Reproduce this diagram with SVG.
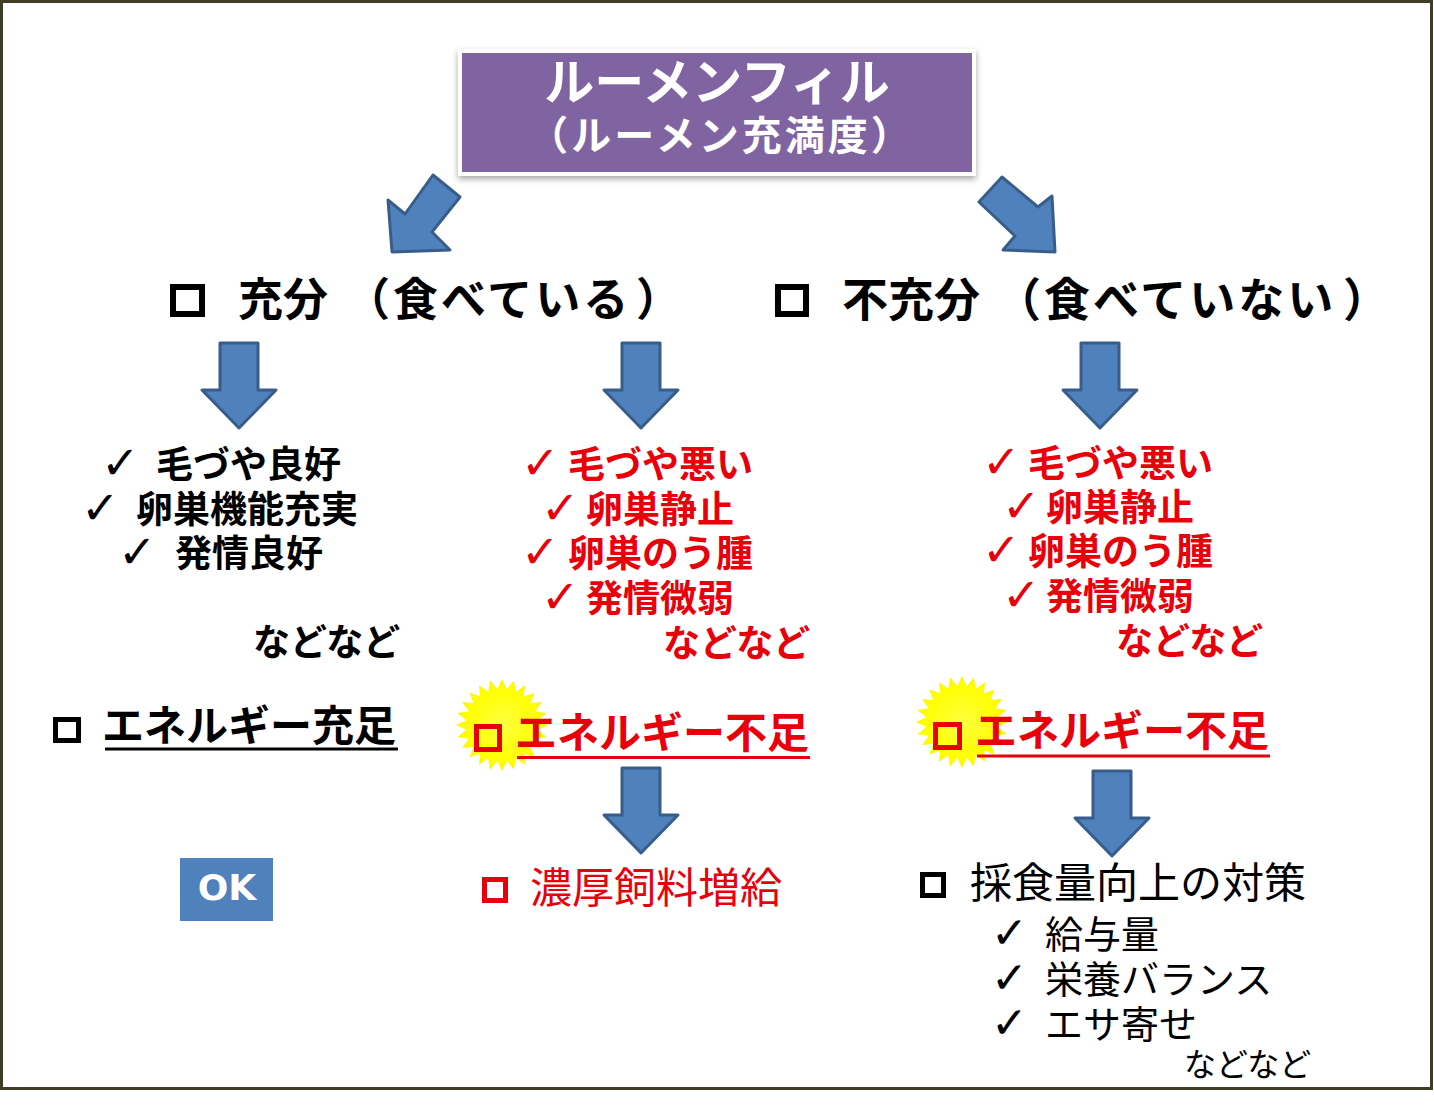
<svg xmlns="http://www.w3.org/2000/svg" width="1434" height="1111" viewBox="0 0 1434 1111">
<defs>
<style>
.jp{font-family:"Noto Sans CJK JP","Noto Sans CJK SC",sans-serif;}
.b{font-weight:700;}
.r{font-weight:400;}
.blk{fill:#000;}
.red{fill:#e8000b;}
.chk{font-family:"DejaVu Sans",sans-serif;font-size:46px;font-weight:700;}
.chk2{font-family:"DejaVu Sans",sans-serif;font-size:44px;font-weight:400;}
.arrow{fill:#4f81bd;stroke:#385d8a;stroke-width:3;stroke-linejoin:round;}
.boxk{fill:none;stroke:#000;}
.boxr{fill:none;stroke:#e8000b;}
</style>
<path id="darr" d="M-19,0 H19 V47 H37 L0,85 L-37,47 H-19 Z"/>
<polygon id="star" points="46,0 35.7,4.7 44.4,11.9 33.3,13.8 39.8,23 28.6,21.9 32.5,32.5 21.9,28.6 23,39.8 13.8,33.3 11.9,44.4 4.7,35.7 0,46 -4.7,35.7 -11.9,44.4 -13.8,33.3 -23,39.8 -21.9,28.6 -32.5,32.5 -28.6,21.9 -39.8,23 -33.3,13.8 -44.4,11.9 -35.7,4.7 -46,0 -35.7,-4.7 -44.4,-11.9 -33.3,-13.8 -39.8,-23 -28.6,-21.9 -32.5,-32.5 -21.9,-28.6 -23,-39.8 -13.8,-33.3 -11.9,-44.4 -4.7,-35.7 0,-46 4.7,-35.7 11.9,-44.4 13.8,-33.3 23,-39.8 21.9,-28.6 32.5,-32.5 28.6,-21.9 39.8,-23 33.3,-13.8 44.4,-11.9 35.7,-4.7"/>
<radialGradient id="sg" cx="0.5" cy="0.5" r="0.5">
<stop offset="0" stop-color="#ffff40"/>
<stop offset="0.8" stop-color="#ffff00"/>
<stop offset="1" stop-color="#fff200"/>
</radialGradient>
<filter id="sh" x="-5%" y="-10%" width="110%" height="130%">
<feDropShadow dx="0" dy="3" stdDeviation="3" flood-color="#000" flood-opacity="0.35"/>
</filter>
</defs>

<rect x="0" y="0" width="1434" height="1111" fill="#fff"/>
<rect x="1.5" y="1.5" width="1430" height="1087" fill="#fff" stroke="#3f3d28" stroke-width="3"/>

<g id="title">
<rect x="458" y="49" width="518" height="127" fill="#fff" filter="url(#sh)"/>
<rect x="462" y="53" width="510" height="119" fill="#8064a2"/>
<text class="jp b" x="717" y="100" font-size="50" fill="#fff" text-anchor="middle">ルーメンフィル</text>
<text class="jp b" x="721" y="150" font-size="40" fill="#fff" text-anchor="middle" letter-spacing="3">（ルーメン充満度）</text>
</g>

<g id="connectors">
<polygon class="arrow" points="433,175 460,197 432,232 450,250 392,252 388,200 405,214"/>
<polygon class="arrow" points="1002,177 1038,207 1052,196 1055,252 1003,250 1015,236 979,202"/>
<use href="#darr" class="arrow" transform="translate(239,343)"/>
<use href="#darr" class="arrow" transform="translate(641,343)"/>
<use href="#darr" class="arrow" transform="translate(1100,343)"/>
<use href="#darr" class="arrow" transform="translate(641,768)"/>
<use href="#darr" class="arrow" transform="translate(1112,771)"/>
</g>

<g id="sufficient">
<rect class="boxk" x="173" y="287" width="29" height="27" stroke-width="6"/>
<text class="jp b blk" x="238" y="316" font-size="45">充分</text>
<text class="jp b blk" x="345" y="316" font-size="45" letter-spacing="3">（食べている</text>
<text class="jp b blk" x="636" y="316" font-size="45">）</text>
</g>

<g id="insufficient">
<rect class="boxk" x="778" y="287" width="28" height="27" stroke-width="6"/>
<text class="jp b blk" x="842" y="316" font-size="46">不充分</text>
<text class="jp b blk" x="995" y="316" font-size="46" letter-spacing="3">（食べていない</text>
<text class="jp b blk" x="1343" y="316" font-size="46">）</text>
</g>

<g id="list-good">
<text class="chk blk" x="101" y="479">✓</text>
<text class="jp b blk" x="156" y="478" font-size="37">毛づや良好</text>
<text class="chk blk" x="81" y="524">✓</text>
<text class="jp b blk" x="136" y="523" font-size="37">卵巣機能充実</text>
<text class="chk blk" x="118" y="568">✓</text>
<text class="jp b blk" x="175" y="567" font-size="37">発情良好</text>
<text class="jp b blk" x="253" y="656" font-size="37">などなど</text>
</g>

<g id="list-bad-mid">
<text class="chk red" x="521" y="479">✓</text>
<text class="jp b red" x="568" y="478" font-size="37">毛づや悪い</text>
<text class="chk red" x="541" y="524">✓</text>
<text class="jp b red" x="586" y="523" font-size="37">卵巣静止</text>
<text class="chk red" x="521" y="568">✓</text>
<text class="jp b red" x="568" y="567" font-size="37">卵巣のう腫</text>
<text class="chk red" x="541" y="613">✓</text>
<text class="jp b red" x="586" y="612" font-size="37">発情微弱</text>
<text class="jp b red" x="663" y="657" font-size="37">などなど</text>
</g>

<g id="list-bad-right">
<text class="chk red" x="982" y="478">✓</text>
<text class="jp b red" x="1028" y="477" font-size="37">毛づや悪い</text>
<text class="chk red" x="1002" y="522">✓</text>
<text class="jp b red" x="1046" y="521" font-size="37">卵巣静止</text>
<text class="chk red" x="982" y="566">✓</text>
<text class="jp b red" x="1028" y="565" font-size="37">卵巣のう腫</text>
<text class="chk red" x="1002" y="611">✓</text>
<text class="jp b red" x="1046" y="610" font-size="37">発情微弱</text>
<text class="jp b red" x="1116" y="655" font-size="37">などなど</text>
</g>

<g id="energy-ok">
<rect class="boxk" x="55.5" y="719.5" width="23" height="21" stroke-width="5"/>
<text class="jp b blk" x="102" y="741" font-size="42">エネルギー充足</text>
<line x1="105" y1="749" x2="398" y2="749" stroke="#000" stroke-width="3"/>
</g>

<g id="energy-low-mid">
<use href="#star" fill="url(#sg)" transform="translate(502,725)"/>
<rect class="boxr" x="476.5" y="726.5" width="23" height="23" stroke-width="5"/>
<text class="jp b red" x="515" y="748" font-size="42">エネルギー不足</text>
<line x1="517" y1="757.5" x2="810" y2="757.5" stroke="#e8000b" stroke-width="3"/>
</g>

<g id="energy-low-right">
<use href="#star" fill="url(#sg)" transform="translate(962,722)"/>
<rect class="boxr" x="935.5" y="724.5" width="24" height="23" stroke-width="5"/>
<text class="jp b red" x="975" y="746" font-size="42">エネルギー不足</text>
<line x1="977" y1="756" x2="1270" y2="756" stroke="#e8000b" stroke-width="3"/>
</g>

<g id="ok">
<rect x="180" y="858" width="93" height="63" fill="#4f81bd"/>
<text x="227" y="900" font-family="DejaVu Sans,sans-serif" font-weight="700" font-size="36" fill="#fff" text-anchor="middle">OK</text>
</g>

<g id="concentrate">
<rect class="boxr" x="484.5" y="879.5" width="21" height="21" stroke-width="5"/>
<text class="jp r red" x="530" y="903" font-size="42">濃厚飼料増給</text>
</g>

<g id="intake">
<rect class="boxk" x="922.5" y="874.5" width="21" height="21" stroke-width="5"/>
<text class="jp r blk" x="970" y="898" font-size="42">採食量向上の対策</text>
<text class="chk2 blk" x="991" y="948">✓</text>
<text class="jp r blk" x="1045" y="948" font-size="38">給与量</text>
<text class="chk2 blk" x="991" y="993">✓</text>
<text class="jp r blk" x="1045" y="993" font-size="38">栄養バランス</text>
<text class="chk2 blk" x="991" y="1038">✓</text>
<text class="jp r blk" x="1045" y="1038" font-size="38">エサ寄せ</text>
<text class="jp r blk" x="1184" y="1076" font-size="32">などなど</text>
</g>
</svg>
